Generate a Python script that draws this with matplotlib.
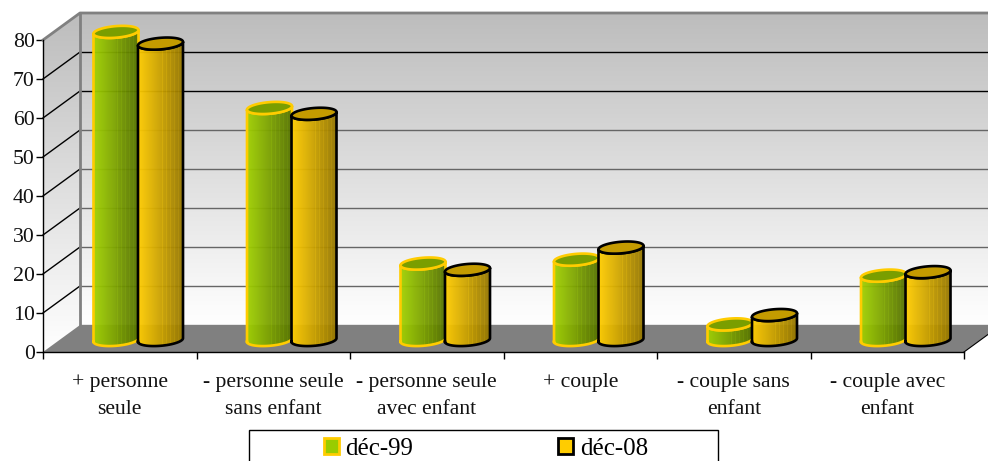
import numpy as np
import matplotlib
matplotlib.use("Agg")
import matplotlib.pyplot as plt
from matplotlib.patches import Polygon, Rectangle, Patch
from matplotlib.colors import to_rgb

categories = ["+ personne\nseule", "- personne seule\nsans enfant", "- personne seule\navec enfant",
              "+ couple", "- couple sans\nenfant", "- couple avec\nenfant"]
dec99 = [79, 59.5, 19.6, 20.6, 4, 16.5]
dec08 = [76, 58, 18, 23.7, 6.4, 17.4]
series_names = ["déc-99", "déc-08"]
yticks = [0, 10, 20, 30, 40, 50, 60, 70, 80]

W, H = 988, 461
AX_L, AX_R, AX_T, AX_B = 43, 964, 40, 352
plt.rcParams['font.family'] = ['Liberation Serif', 'DejaVu Serif']
fig = plt.figure(figsize=(W / 100, H / 100), dpi=100)
ax = fig.add_axes([AX_L / W, 1 - AX_B / H, (AX_R - AX_L) / W, (AX_B - AX_T) / H])
ax.patch.set_visible(False)
n = len(categories)
ax.set_xlim(0, n)
ax.set_ylim(0, 80)
PX = (AX_R - AX_L) / n      # pixels per category
PY = (AX_B - AX_T) / 80     # pixels per value unit
DX, DY = 37 / PX, 27 / PY   # depth of the box in data units


def gradient(polygon_xy, extent, img, z, alpha=None, interp='bilinear'):
    im = ax.imshow(img, extent=extent, aspect='auto', origin='upper', zorder=z,
                   interpolation=interp, alpha=alpha)
    poly = Polygon(polygon_xy, closed=True, transform=ax.transData, fc='none', ec='none', clip_on=False)
    ax.add_patch(poly)
    im.set_clip_box(fig.bbox)
    im.set_clip_path(poly)
    return im


# walls
wall = np.linspace(0, 1, 200)[:, None]
top, bottom = np.array([0.74, 0.74, 0.74]), np.array([1.0, 1.0, 1.0])
wall_img = (top[None, None, :] * (1 - wall[..., None]) + bottom[None, None, :] * wall[..., None])
back = [(DX, DY), (n + DX, DY), (n + DX, 80 + DY), (DX, 80 + DY)]
side = [(0, 0), (DX, DY), (DX, 80 + DY), (0, 80)]
gradient(back, (DX, n + DX, DY, 80 + DY), wall_img, 1)
gradient(side, (0, DX, 0, 80 + DY), wall_img, 1)
ax.add_patch(Polygon([(0, 0), (n, 0), (n + DX, DY), (DX, DY)], closed=True, fc='#808080', ec='none',
                     zorder=2, clip_on=False))

for v in yticks[1:-1]:
    shade = 'black' if v >= 60 else '#666666'
    ax.plot([DX, n + DX], [v + DY, v + DY], color=shade, lw=1, zorder=1.5, clip_on=False)
    ax.plot([0, DX], [v, v + DY], color='black', lw=1, zorder=1.5, clip_on=False)
# wall borders
ax.plot([0, DX, n + DX], [80, 80 + DY, 80 + DY], color='#808080', lw=2, zorder=1.6, clip_on=False)
ax.plot([DX, DX], [DY, 80 + DY], color='#808080', lw=2, zorder=1.6, clip_on=False)
ax.plot([DX, n + DX], [DY, DY], color='#808080', lw=1, zorder=1.6, clip_on=False)
ax.plot([n, n + DX], [0, DY], color='black', lw=0.8, zorder=3, clip_on=False)

# cylinders
A, B, SHEAR = 22.5, 5.8, 0.08
BASE_DY = 12 / PY


def ring(xc, v, t):
    return xc + A * np.cos(t) / PX, v + (B * np.sin(t) + SHEAR * A * np.cos(t)) / PY


def stripes(c0, c1):
    m = 46
    f = np.linspace(0, 1, m)
    shade = np.array([np.array(to_rgb(c0)) * (1 - a) + np.array(to_rgb(c1)) * a for a in f])
    shade[(np.arange(m) % 4 == 0) & (f > 0.45) & (f < 0.9)] *= 1.07
    return np.clip(shade, 0, 1)[None, :, :]


def cylinder(xc, v, grad, topc, edge, z):
    base = BASE_DY
    t_low = np.linspace(np.pi, 2 * np.pi, 50)
    t_all = np.linspace(0, 2 * np.pi, 100)
    bx, by = ring(xc, base, t_low)                  # lower half of base, left to right
    tx, ty = ring(xc, base + v, t_low[::-1])        # back along the top rim
    body = list(zip(bx, by)) + list(zip(tx, ty))
    ext = (xc - A / PX, xc + A / PX, base - 10, base + v + 10)
    gradient(body, ext, grad, z, alpha=0.95, interp='nearest')
    ax.plot(list(bx) + list(tx) + [bx[0]], list(by) + list(ty) + [by[0]], color=edge, lw=1.9,
            zorder=z + 0.1, clip_on=False, solid_joinstyle='round')
    rx, ry = ring(xc, base + v, t_all)
    ax.add_patch(Polygon(list(zip(rx, ry)), closed=True, fc=topc, ec=edge, lw=1.9, zorder=z + 0.2,
                         clip_on=False))


green_g = stripes('#a0d000', '#567200')
gold_g = stripes('#ffcc00', '#947600')
OFFSET = 18.5 / PX
HALF = 22.25 / PX
for i in range(n):
    c = i + 0.5 + OFFSET
    cylinder(c - HALF, dec99[i], green_g, '#7a9e00', '#ffcc00', 4 + i)
    cylinder(c + HALF, dec08[i], gold_g, '#c49b00', 'black', 4.5 + i)

# axes
ax.set_xticks(range(n + 1))
ax.set_xticklabels([])
ax.set_xticks(np.arange(n) + 0.5, categories, minor=True, linespacing=1.55)
ax.tick_params(axis='x', which='major', length=5, width=1, color='black')
ax.tick_params(axis='x', which='minor', length=0, pad=15, labelsize=15.6, labelcolor='#111111')
ax.set_yticks(yticks)
ax.tick_params(axis='y', length=5, width=1, pad=1, labelsize=15.7, labelcolor='#111111')
for s in ('top', 'right'):
    ax.spines[s].set_visible(False)
for s in ('left', 'bottom'):
    ax.spines[s].set_linewidth(1)
    ax.spines[s].set_zorder(30)
ax.set_xlim(0, n)
ax.set_ylim(0, 80)

# legend
fig.add_artist(Rectangle((248.5 / W, -0.02), 469.5 / W, 1 - 429.5 / H + 0.02, transform=fig.transFigure,
                         fc='white', ec='black', lw=1, clip_on=False))
handles = [Patch(fc='#99cc00', ec='#ffcc00', lw=2), Patch(fc='#ffcc00', ec='black', lw=2)]
leg = fig.legend(handles, series_names, ncol=2, frameon=False, fontsize=18,
                 loc='center left', bbox_to_anchor=(324 / W, 1 - 449 / H), borderpad=0, borderaxespad=0,
                 handlelength=0.58, handleheight=0.58, handletextpad=0.28, columnspacing=5.8)
leg.set_zorder(50)
fig.savefig('out.png', dpi=100)
